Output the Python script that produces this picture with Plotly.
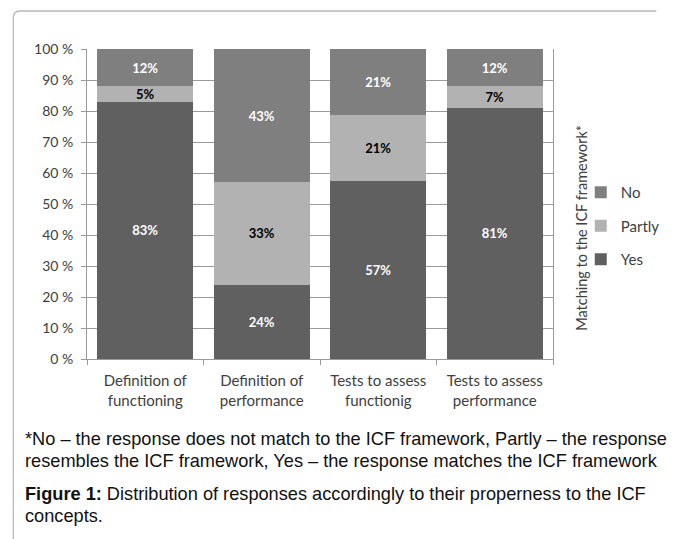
import plotly.graph_objects as go

categories = ["Definition of<br>functioning", "Definition of<br>performance",
              "Tests to assess<br>functionig", "Tests to assess<br>performance"]
yes_vals = [83, 24, 57, 81]
partly_vals = [5, 33, 21, 7]
no_vals = [12, 43, 21, 12]
y_ticks = [0, 10, 20, 30, 40, 50, 60, 70, 80, 90, 100]
y_ticktext = [f"{v} %" for v in y_ticks]

W, H = 677, 539
L, R, T, B = 87, 574, 49, 359

def px(x):
    return (x - L) / (R - L)

def py(y):
    return (B - y) / (B - T)

fig = go.Figure()
series = [("Yes", yes_vals, "#606060", "white", 3),
          ("Partly", partly_vals, "#b2b2b2", "black", 2),
          ("No", no_vals, "#7f7f7f", "white", 1)]
for name, vals, col, tcol, rank in series:
    fig.add_trace(go.Bar(
        x=categories, y=vals, name=name, legendgroup=name, legendrank=rank,
        marker=dict(color=col, line=dict(width=0)),
        text=[f"{v}%" for v in vals], textposition="inside",
        insidetextanchor="middle", textangle=0,
        textfont=dict(family="Lato", size=13, color=tcol, weight="bold"),
        hoverinfo="skip",
    ))

grid = "#9a9a9a"
fig.update_layout(
    width=W, height=H,
    margin=dict(l=L, r=W - R, t=T, b=H - B),
    barmode="stack", barnorm="percent", bargap=0.18,
    plot_bgcolor="white", paper_bgcolor="white",
    uniformtext=dict(minsize=13, mode="show"),
    font=dict(family="Lato", color="#404040"),
    showlegend=True,
    legend=dict(x=px(603), y=py(176), xanchor="left", yanchor="top",
                traceorder="grouped", tracegroupgap=11,
                font=dict(family="Lato", size=15, color="#404040"),
                itemwidth=30, bgcolor="rgba(0,0,0,0)"),
    xaxis=dict(showline=True, linecolor=grid, linewidth=1,
               ticks="outside", tickson="boundaries", ticklen=5, tickcolor=grid,
               ticklabelstandoff=8,
               tickfont=dict(family="Lato", size=15, color="#404040"),
               showgrid=False, fixedrange=True),
    yaxis=dict(range=[0, 100], tickvals=y_ticks, ticktext=y_ticktext,
               showline=True, linecolor=grid, linewidth=1, mirror=True,
               ticks="outside", ticklen=5, tickcolor=grid, ticklabelstandoff=5,
               showgrid=True, gridcolor=grid, gridwidth=1,
               tickfont=dict(family="Lato", size=14, color="#404040"),
               zeroline=False),
)

# frame
r = 7
path = (f"M {px(10)},{py(H + 5)} L {px(10)},{py(11 + r)} "
        f"Q {px(10)},{py(11)} {px(10 + r)},{py(11)} L {px(W + 5)},{py(11)}")
fig.add_shape(type="path", path=path, xref="paper", yref="paper",
              line=dict(color="#b8b8b8", width=1.3))

fig.add_annotation(text="Matching to the ICF framework*", textangle=-90,
                   x=px(603), y=py(228), xref="paper", yref="paper",
                   showarrow=False, xanchor="center", yanchor="middle",
                   font=dict(family="Lato", size=14.5, color="#404040"))

cap_font = dict(family="Liberation Sans", size=18.2, color="#111111")
lines = [
    ("*No – the response does not match to the ICF framework, Partly – the response", 439),
    ("resembles the ICF framework, Yes – the response matches the ICF framework", 461),
    ("<b>Figure 1:</b> Distribution of responses accordingly to their properness to the ICF", 494),
    ("concepts.", 516),
]
for txt, yy in lines:
    fig.add_annotation(text=txt, x=px(20), y=py(yy), xref="paper", yref="paper",
                       showarrow=False, xanchor="left", yanchor="middle",
                       font=cap_font)

fig.write_html("out.html")
